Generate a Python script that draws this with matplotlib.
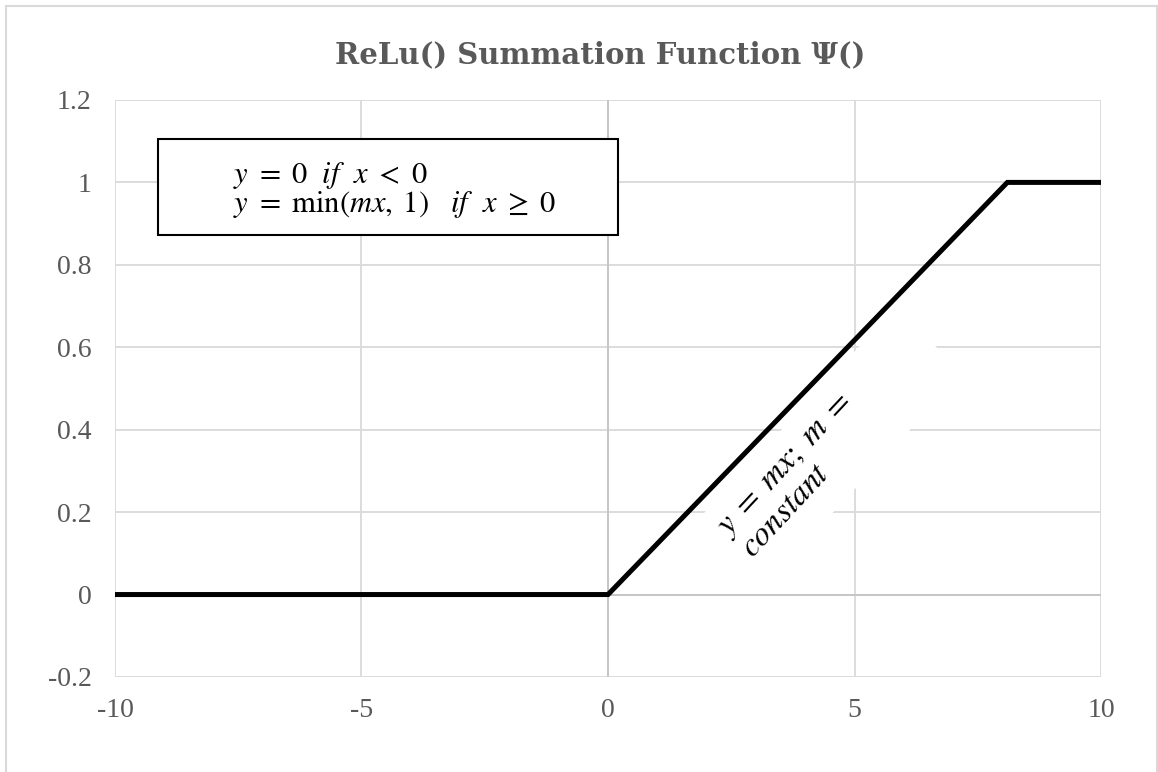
import matplotlib.pyplot as plt
from matplotlib.patches import Rectangle
from matplotlib.transforms import Affine2D

plt.rcParams['font.family'] = ['Liberation Serif', 'DejaVu Serif']
plt.rcParams['mathtext.fontset'] = 'stix'

# points of the ReLu curve (flat, ramp, saturated)
x_pts = [-10, 0, 8.1, 10]
y_pts = [0, 0, 1, 1]

x_ticks = [-10, -5, 0, 5, 10]
x_labels = ['-10', '-5', '0', '5', '10']
y_ticks = [-0.2, 0, 0.2, 0.4, 0.6, 0.8, 1.0, 1.2]
y_labels = ['-0.2', '0', '0.2', '0.4', '0.6', '0.8', '1', '1.2']

grey_txt = '#595959'
grid_col = '#d9d9d9'
slope_deg = 47

fig = plt.figure(figsize=(11.58, 7.72), dpi=100)
ax = fig.add_axes([0.0993, 0.1231, 0.8515, 0.7474])

ax.set_xlim(-10, 10)
ax.set_ylim(-0.2, 1.2)
ax.set_xticks(x_ticks)
ax.set_xticklabels(x_labels)
ax.set_yticks(y_ticks)
ax.set_yticklabels(y_labels)
ax.tick_params(axis='both', length=0, labelsize=20, labelcolor=grey_txt)
ax.tick_params(axis='x', pad=15)
ax.tick_params(axis='y', pad=17)
for s in ax.spines.values():
    s.set_visible(False)
ax.grid(True, color=grid_col, lw=1.3, zorder=0)
ax.set_axisbelow(True)
ax.axhline(0, color='#c4c4c4', lw=1.3, zorder=1)
ax.axvline(0, color='#c4c4c4', lw=1.3, zorder=1)

ax.plot(x_pts, y_pts, color='black', lw=3.6, solid_joinstyle='miter', zorder=5)

# white label box along the ramp (size in inches, rotated with the text)
cx, cy = ax.transData.transform((4.46, 0.353))
box_tr = fig.dpi_scale_trans + Affine2D().rotate_deg(slope_deg).translate(cx, cy)
ax.add_patch(Rectangle((-1.485, -0.47), 2.97, 0.94, transform=box_tr,
                       fc='white', ec='none', zorder=2, clip_on=False))

ax.text(2.93, 0.086, r'$y\;=\ mx;\ m\;=$' + '\n' + r'$constant$',
        rotation=slope_deg, rotation_mode='anchor', ha='left', va='baseline',
        multialignment='left', fontsize=24, linespacing=1.0,
        color='black', zorder=3)

# formula box
fig.patches.append(Rectangle((158 / 1158, 1 - 235 / 772), 460 / 1158, 96 / 772,
                             transform=fig.transFigure, fill=True, fc='white',
                             ec='black', lw=1.5, zorder=6))
fig.text(233 / 1158, 1 - 183 / 772, r'$y\ =\ 0\ \ if\ \ x\ <\ 0$', fontsize=22,
         ha='left', va='baseline', zorder=7)
fig.text(233 / 1158, 1 - 212 / 772,
         r'$y\ =\ \min(mx,\;1)\ \ \ if\ \ x\ \geq\ 0$',
         fontsize=22, ha='left', va='baseline', zorder=7)

fig.text(600 / 1158, 1 - 55 / 772, 'ReLu() Summation Function Ψ()',
         family='DejaVu Serif', fontsize=21, fontweight='bold', color=grey_txt,
         ha='center', va='center')

# chart area border
fig.patches.append(Rectangle((6 / 1158, -0.02), 1150.5 / 1158, 1.02 - 6 / 772,
                             transform=fig.transFigure, fill=False,
                             ec=grid_col, lw=1.5))

fig.savefig('out.png', dpi=100)
